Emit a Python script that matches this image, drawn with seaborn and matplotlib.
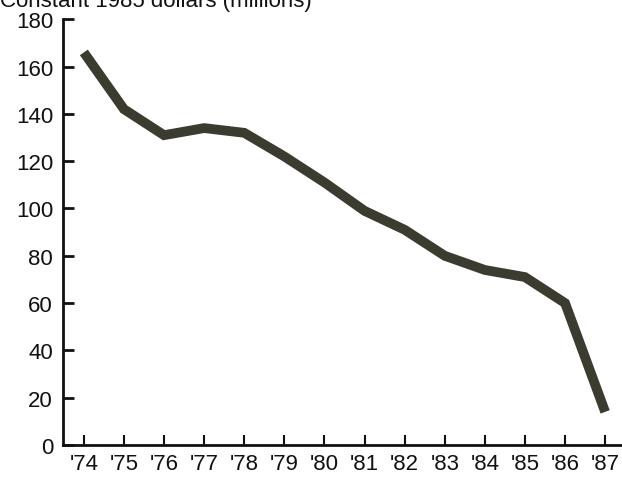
import matplotlib
matplotlib.use("Agg")
import matplotlib.pyplot as plt
import seaborn as sns
import pandas as pd

years = [74, 75, 76, 77, 78, 79, 80, 81, 82, 83, 84, 85, 86, 87]
year_labels = ["'74", "'75", "'76", "'77", "'78", "'79", "'80", "'81", "'82", "'83", "'84", "'85", "'86", "'87"]
values = [166, 142, 131, 134, 132, 122, 111, 99, 91, 80, 74, 71, 60, 14]
y_ticks = [0, 20, 40, 60, 80, 100, 120, 140, 160, 180]

sns.set_style("ticks")
plt.rcParams['font.family'] = ['Liberation Sans', 'DejaVu Sans']

df = pd.DataFrame({"year": years, "value": values})

fig = plt.figure(figsize=(6.22, 4.81), dpi=100)
ax = fig.add_axes([0.101, 0.0728, 0.899, 0.885])
sns.lineplot(data=df, x="year", y="value", ax=ax, color="#3b3b30", linewidth=7,
             solid_joinstyle="miter", solid_capstyle="butt")

ax.set_xlim(73.476, 87.42)
ax.set_ylim(0, 180)
ax.set_xticks(years)
ax.set_xticklabels(year_labels)
ax.set_yticks(y_ticks)
ax.set_xlabel("")
ax.set_ylabel("")
for s in ["top", "right"]:
    ax.spines[s].set_visible(False)
for s in ["left", "bottom"]:
    ax.spines[s].set_linewidth(2)
    ax.spines[s].set_color("#111111")
ax.tick_params(axis="y", direction="in", length=8, width=2, labelsize=16, pad=7,
               color="#111111", labelcolor="#111111")
ax.tick_params(axis="x", direction="in", length=7, width=1.5, labelsize=16, pad=6,
               color="#111111", labelcolor="#111111")

fig.text(0.0, 0.9855, "Constant 1985 dollars (millions)", fontsize=16, ha="left", va="baseline",
         color="#111111")

fig.savefig("out.png", dpi=100)
